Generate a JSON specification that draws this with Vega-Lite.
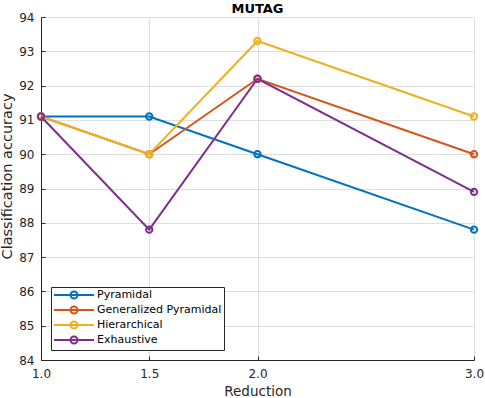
{
  "$schema": "https://vega.github.io/schema/vega-lite/v6.json",
  "autosize": {"type": "none"},
  "width": 433,
  "height": 343,
  "padding": {"left": 41, "top": 17, "right": 11, "bottom": 38},
  "background": "white",
  "config": {
    "font": "DejaVu Sans",
    "view": {"stroke": null},
    "axis": {
      "labelFont": "DejaVu Sans",
      "titleFont": "DejaVu Sans",
      "labelColor": "#262626",
      "titleColor": "#262626",
      "domainColor": "#262626",
      "tickColor": "#262626",
      "gridColor": "#dedede",
      "gridWidth": 1,
      "domainWidth": 1,
      "labelFontSize": 12,
      "titleFontSize": 13.5,
      "titleFontWeight": "normal"
    }
  },
  "title": {
    "text": "MUTAG",
    "font": "DejaVu Sans",
    "fontSize": 13,
    "fontWeight": "bold",
    "color": "#000000",
    "offset": 2,
    "dy": 7
  },
  "data": {
    "values": [
      {"reduction": 1.0, "accuracy": 91.1, "method": "Pyramidal"},
      {"reduction": 1.5, "accuracy": 91.1, "method": "Pyramidal"},
      {"reduction": 2.0, "accuracy": 90.0, "method": "Pyramidal"},
      {"reduction": 3.0, "accuracy": 87.8, "method": "Pyramidal"},
      {"reduction": 1.0, "accuracy": 91.1, "method": "Generalized Pyramidal"},
      {"reduction": 1.5, "accuracy": 90.0, "method": "Generalized Pyramidal"},
      {"reduction": 2.0, "accuracy": 92.2, "method": "Generalized Pyramidal"},
      {"reduction": 3.0, "accuracy": 90.0, "method": "Generalized Pyramidal"},
      {"reduction": 1.0, "accuracy": 91.1, "method": "Hierarchical"},
      {"reduction": 1.5, "accuracy": 90.0, "method": "Hierarchical"},
      {"reduction": 2.0, "accuracy": 93.3, "method": "Hierarchical"},
      {"reduction": 3.0, "accuracy": 91.1, "method": "Hierarchical"},
      {"reduction": 1.0, "accuracy": 91.1, "method": "Exhaustive"},
      {"reduction": 1.5, "accuracy": 87.8, "method": "Exhaustive"},
      {"reduction": 2.0, "accuracy": 92.2, "method": "Exhaustive"},
      {"reduction": 3.0, "accuracy": 88.9, "method": "Exhaustive"}
    ]
  },
  "mark": {
    "type": "line",
    "strokeWidth": 2,
    "point": {"filled": false, "size": 40, "strokeWidth": 2}
  },
  "encoding": {
    "x": {
      "field": "reduction",
      "type": "quantitative",
      "title": "Reduction",
      "scale": {"domain": [1, 3], "nice": false, "zero": false},
      "axis": {
        "values": [1, 1.5, 2, 3],
        "format": ".1f",
        "tickSize": -4,
        "labelPadding": 12,
        "labelFlush": false,
        "titlePadding": 5,
        "grid": true
      }
    },
    "y": {
      "field": "accuracy",
      "type": "quantitative",
      "title": "Classification accuracy",
      "scale": {"domain": [84, 94], "nice": false, "zero": false},
      "axis": {
        "values": [84, 85, 86, 87, 88, 89, 90, 91, 92, 93, 94],
        "format": "d",
        "tickSize": -4,
        "labelPadding": 11,
        "labelFlush": false,
        "titleFontSize": 14.5,
        "titleX": -27,
        "titleY": 159,
        "titleBaseline": "bottom",
        "titleAnchor": "middle",
        "grid": true
      }
    },
    "color": {
      "field": "method",
      "type": "nominal",
      "sort": ["Pyramidal", "Generalized Pyramidal", "Hierarchical", "Exhaustive"],
      "scale": {
        "domain": ["Pyramidal", "Generalized Pyramidal", "Hierarchical", "Exhaustive"],
        "range": ["#0072BD", "#D95319", "#EDB120", "#7E2F8E"]
      },
      "legend": {
        "title": null,
        "orient": "bottom-left",
        "offset": 10,
        "fillColor": "white",
        "strokeColor": "#262626",
        "padding": 2,
        "symbolType": "M-4,0H4M0.7,0A0.7,0.7 0 1,1 -0.7,0A0.7,0.7 0 1,1 0.7,0",
        "symbolSize": 100,
        "symbolStrokeWidth": 2,
        "symbolFillColor": "transparent",
        "symbolOffset": 15,
        "labelFont": "DejaVu Sans",
        "labelFontSize": 11,
        "labelColor": "#000000",
        "labelOffset": 17,
        "rowPadding": -1
      }
    }
  }
}
